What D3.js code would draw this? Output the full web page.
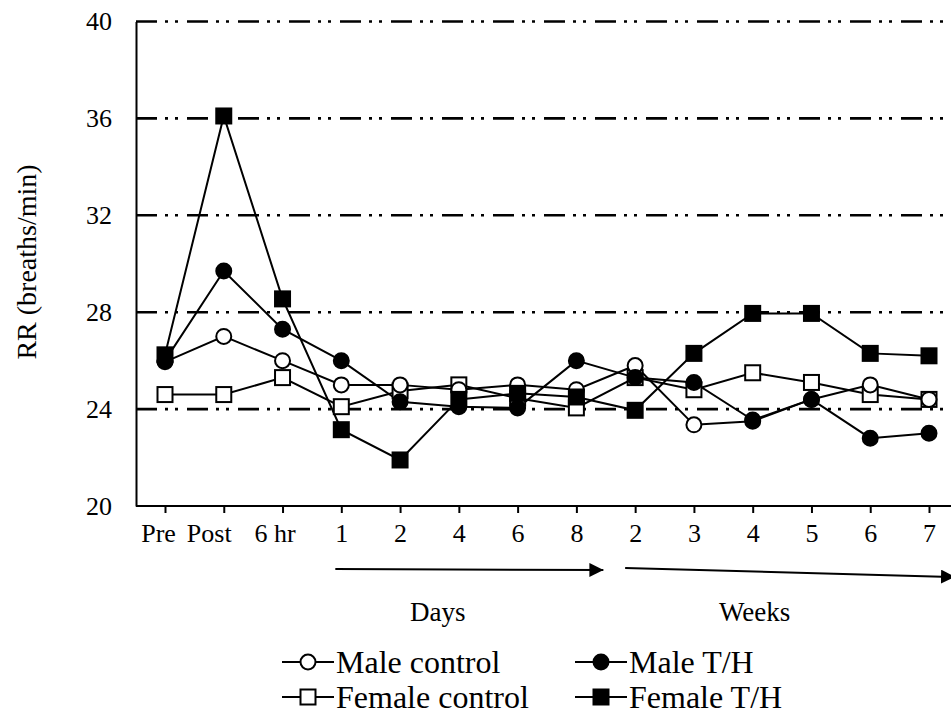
<!DOCTYPE html>
<html><head><meta charset="utf-8">
<script src="https://cdn.jsdelivr.net/npm/d3@7/dist/d3.min.js"></script>
<style>body{margin:0;background:#fff}svg{display:block}text{font-family:"Liberation Serif","Times New Roman",serif;fill:#000}</style>
</head><body>
<script>
const categories = ["Pre","Post","6 hr","1","2","4","6","8","2","3","4","5","6","7"];
const maleControl   = [25.95,27.0,26.0,25.0,25.0,24.8,25.0,24.8,25.8,23.35,23.5,24.4,25.0,24.4];
const maleTH        = [26.0,29.7,27.3,26.0,24.3,24.1,24.05,26.0,25.3,25.1,23.55,24.4,22.8,23.0];
const femaleControl = [24.6,24.6,25.3,24.1,24.75,25.0,24.45,24.05,25.3,24.8,25.5,25.1,24.6,24.4];
const femaleTH      = [26.24,36.1,28.55,23.15,21.9,24.4,24.65,24.5,23.95,26.3,27.95,27.95,26.3,26.2];
const yTicks = [20,24,28,32,36,40];
const seriesNames = ["Male control","Male T/H","Female control","Female T/H"];
const periodLabels = ["Days","Weeks"];

const W = 951, H = 714;
const svg = d3.select("body").append("svg").attr("width",W).attr("height",H);

const x = d3.scalePoint().domain(d3.range(categories.length)).range([165,929]);
const y = d3.scaleLinear().domain([20,40]).range([506,21.5]);
const axisX = 136, plotRight = 951;
const FONT = "'Liberation Serif', 'Times New Roman', serif";

// gridlines (dash-dot-dot)
svg.append("g").selectAll("line").data(yTicks.filter(t=>t>20)).join("line")
  .attr("x1",axisX).attr("x2",plotRight).attr("y1",d=>y(d)).attr("y2",d=>y(d))
  .attr("stroke","#000").attr("stroke-width",2.6)
  .attr("stroke-dasharray","21 8 3 7 3 9");

// y axis
const ya = svg.append("g").attr("transform",`translate(${axisX},0)`)
  .call(d3.axisLeft(y).tickValues(yTicks).tickSize(0).tickPadding(24));
ya.attr("font-size",null).attr("font-family",null);
ya.select(".domain").attr("stroke","#000").attr("stroke-width",2);
ya.selectAll("text").style("font-size","26px").style("font-family",FONT);

// x axis
const xa = svg.append("g").attr("transform",`translate(0,${y(20)})`)
  .call(d3.axisBottom(x).tickSize(7).tickFormat(i=>categories[i]).tickPadding(11));
xa.attr("font-size",null).attr("font-family",null);
xa.select(".domain").attr("stroke","#000").attr("stroke-width",2).attr("d",`M${axisX},0H${plotRight}`);
xa.selectAll(".tick line").attr("stroke","#000").attr("stroke-width",2);
const labelShift = [-7,-15,-8];
xa.selectAll(".tick text").style("font-size","26px").style("font-family",FONT)
  .attr("dx",(d,i)=> (labelShift[i]||0));

// y title
svg.append("text").attr("transform","translate(36,262) rotate(-90)")
  .attr("text-anchor","middle").style("font-size","28px").style("font-family",FONT)
  .text("RR (breaths/min)");

// arrows
const defs = svg.append("defs");
defs.append("marker").attr("id","ah").attr("viewBox","0 0 10 10").attr("refX",10).attr("refY",5)
  .attr("markerWidth",7).attr("markerHeight",7).attr("markerUnits","strokeWidth").attr("orient","auto")
  .append("path").attr("d","M0,0L10,5L0,10Z").attr("fill","#000");
const arrows = [
  {x1:x(3)-6, y1:569, x2:x(7)+27, y2:570},
  {x1:x(8)-10, y1:568, x2:plotRight+4, y2:577}
];
svg.append("g").selectAll("line").data(arrows).join("line")
  .attr("x1",d=>d.x1).attr("y1",d=>d.y1).attr("x2",d=>d.x2).attr("y2",d=>d.y2)
  .attr("stroke","#000").attr("stroke-width",2).attr("marker-end","url(#ah)");
svg.append("g").selectAll("text").data(periodLabels).join("text")
  .attr("x",(d,i)=> i===0 ? x(5)-21 : x(10)+2)
  .attr("y",621).attr("text-anchor","middle").style("font-size","27px").style("font-family",FONT)
  .text(d=>d);

// series
const series = [
  {name:seriesNames[0], values:maleControl, shape:"circle", fill:"#fff"},
  {name:seriesNames[1], values:maleTH, shape:"circle", fill:"#000"},
  {name:seriesNames[2], values:femaleControl, shape:"square", fill:"#fff"},
  {name:seriesNames[3], values:femaleTH, shape:"square", fill:"#000"}
];
const line = d3.line().x((d,i)=>x(i)).y(d=>y(d));
const drawOrder = [2,0,1,3];
function marker(g, s, cx, cy){
  if(s.shape==="circle"){
    g.append("circle").attr("cx",cx).attr("cy",cy).attr("r",7.5)
      .attr("fill",s.fill).attr("stroke","#000").attr("stroke-width",2);
  } else {
    g.append("rect").attr("x",cx-7.5).attr("y",cy-7.5).attr("width",15).attr("height",15)
      .attr("fill",s.fill).attr("stroke","#000").attr("stroke-width",2);
  }
}
drawOrder.forEach(k=>{
  const s = series[k];
  svg.append("path").datum(s.values).attr("d",line).attr("fill","none")
    .attr("stroke","#000").attr("stroke-width",2);
});
drawOrder.forEach(k=>{
  const s = series[k];
  const g = svg.append("g");
  s.values.forEach((v,i)=>marker(g,s,x(i),y(v)));
});

// legend
const legPos = [[282,662],[575,662],[282,697],[575,697]];
series.forEach((s,k)=>{
  const [lx,ly] = legPos[k];
  const g = svg.append("g");
  g.append("line").attr("x1",lx).attr("x2",lx+52).attr("y1",ly).attr("y2",ly)
    .attr("stroke","#000").attr("stroke-width",2);
  marker(g,s,lx+26,ly);
  g.append("text").attr("x",lx+54).attr("y",ly).attr("dy","0.35em")
    .style("font-size","32px").style("font-family",FONT).text(s.name);
});
</script>
</body></html>
